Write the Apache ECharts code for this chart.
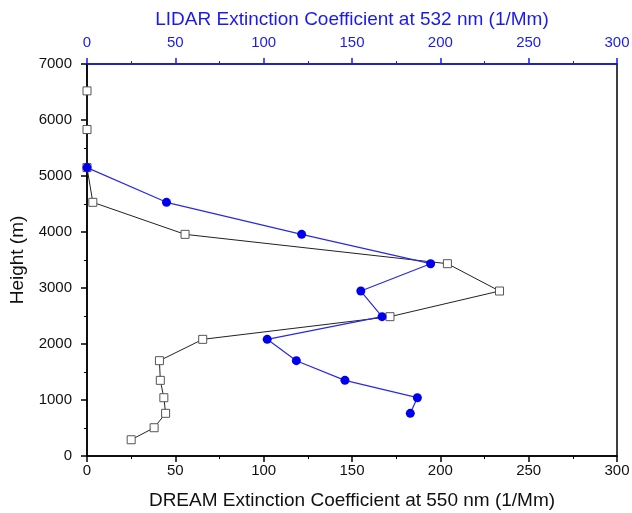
<!DOCTYPE html>
<html>
<head>
<meta charset="utf-8">
<script src="https://cdn.jsdelivr.net/npm/echarts@6/dist/echarts.min.js"></script>
<style>
  html, body { margin: 0; padding: 0; background: #fff; }
  #chart { width: 632px; height: 513px; }
</style>
</head>
<body>
<div id="chart"></div>
<script>
// heights (m) of the model levels
var dreamHeight = [290, 505, 762, 1041, 1351, 1702, 2083, 2488, 2946, 3434, 3958, 4530, 5150, 5830, 6520];
// DREAM extinction at 550 nm (1/Mm)
var dreamExt = [25, 38, 44.5, 43.5, 41.5, 41, 65.5, 171.5, 233.5, 204, 55.5, 3.3, 0, 0, 0];

var lidarHeight = [5150, 4530, 3958, 3434, 2946, 2488, 2083, 1702, 1351, 1041, 762];
// LIDAR extinction at 532 nm (1/Mm)
var lidarExt = [0, 45, 121.5, 194.5, 155, 167, 102, 118.5, 146, 187, 183];

function pairs(xs, ys) {
  var res = [];
  for (var i = 0; i < xs.length; i++) {
    res.push([xs[i], ys[i]]);
  }
  return res;
}

var font = 'Liberation Sans, Arial, sans-serif';
var blue = '#1a1aee';

var option = {
  animation: false,
  backgroundColor: '#fff',
  grid: {
    left: 87,
    right: 15,
    top: 64,
    bottom: 57,
    outerBoundsMode: 'none',
    show: true,
    borderColor: '#000',
    borderWidth: 1.5
  },
  xAxis: [{
    type: 'value',
    position: 'bottom',
    min: 0,
    max: 300,
    interval: 50,
    name: 'DREAM Extinction Coefficient at 550 nm (1/Mm)',
    nameLocation: 'middle',
    nameGap: 35,
    nameTextStyle: { fontFamily: font, fontSize: 19, color: '#111' },
    axisLine: { lineStyle: { color: '#000', width: 1.5 } },
    axisTick: { length: 6, lineStyle: { color: '#000', width: 1.5 } },
    minorTick: { show: true, splitNumber: 2, length: 3, lineStyle: { color: '#000', width: 1 } },
    axisLabel: { fontFamily: font, fontSize: 15, color: '#111', margin: 7 },
    splitLine: { show: false }
  }, {
    type: 'value',
    position: 'top',
    min: 0,
    max: 300,
    interval: 50,
    name: 'LIDAR Extinction Coefficient at 532 nm (1/Mm)',
    nameLocation: 'middle',
    nameGap: 35,
    nameTextStyle: { fontFamily: font, fontSize: 19, color: blue },
    axisLine: { lineStyle: { color: blue, width: 1.5 } },
    axisTick: { length: 6, lineStyle: { color: blue, width: 1.5 } },
    minorTick: { show: true, splitNumber: 2, length: 3, lineStyle: { color: blue, width: 1 } },
    axisLabel: { fontFamily: font, fontSize: 15, color: blue, margin: 14 },
    splitLine: { show: false }
  }],
  yAxis: {
    type: 'value',
    min: 0,
    max: 7000,
    interval: 1000,
    name: 'Height (m)',
    nameLocation: 'middle',
    nameGap: 60,
    nameTextStyle: { fontFamily: font, fontSize: 19, color: '#111' },
    axisLine: { lineStyle: { color: '#000', width: 1.5 } },
    axisTick: { length: 6, lineStyle: { color: '#000', width: 1.5 } },
    minorTick: { show: true, splitNumber: 2, length: 3, lineStyle: { color: '#000', width: 1 } },
    axisLabel: {
      fontFamily: font, fontSize: 15, color: '#111', margin: 15,
      formatter: function(v) { return String(v); }
    },
    splitLine: { show: false }
  },
  series: [{
    name: 'DREAM',
    type: 'line',
    xAxisIndex: 0,
    data: pairs(dreamExt, dreamHeight),
    symbol: 'rect',
    symbolSize: 8,
    lineStyle: { color: '#222', width: 1 },
    itemStyle: { color: '#fff', borderColor: '#555', borderWidth: 1 },
    clip: false,
    z: 2
  }, {
    name: 'LIDAR',
    type: 'line',
    xAxisIndex: 1,
    data: pairs(lidarExt, lidarHeight),
    symbol: 'circle',
    symbolSize: 9,
    lineStyle: { color: '#2a2ae0', width: 1.2 },
    itemStyle: { color: '#0000ee', borderWidth: 0 },
    clip: false,
    z: 3
  }]
};

var chart = echarts.init(document.getElementById('chart'));
chart.setOption(option);
</script>
</body>
</html>
